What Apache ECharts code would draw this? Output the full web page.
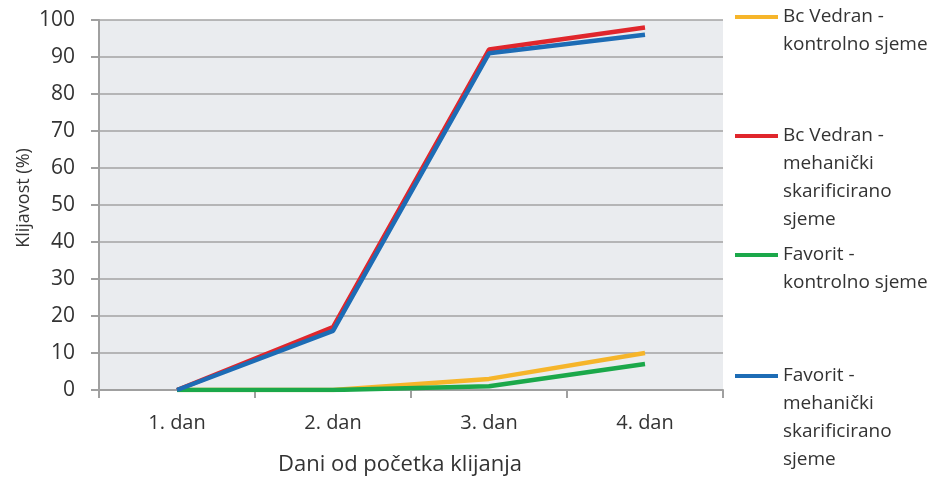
<!DOCTYPE html>
<html>
<head>
<meta charset="utf-8">
<script src="https://cdn.jsdelivr.net/npm/echarts@6/dist/echarts.min.js"></script>
<style>html,body{margin:0;padding:0;background:#fff}#c{width:930px;height:483px}</style>
</head>
<body>
<div id="c"></div>
<script>
const categories = ['1. dan', '2. dan', '3. dan', '4. dan'];
const seriesNames = [
  'Bc Vedran -\nkontrolno sjeme',
  'Bc Vedran -\nmehanički\nskarificirano\nsjeme',
  'Favorit -\nkontrolno sjeme',
  'Favorit -\nmehanički\nskarificirano\nsjeme'
];
const vedranKontrolno = [0, 0, 3, 10];
const vedranSkarificirano = [0, 17, 92, 98];
const favoritKontrolno = [0, 0, 1, 7];
const favoritSkarificirano = [0, 16, 91, 96];
const colors = ['#f6b52a', '#e0262c', '#1ba84a', '#1d6cb5'];
const yTicks = { min: 0, max: 100, interval: 10 };

const values = [vedranKontrolno, vedranSkarificirano, favoritKontrolno, favoritSkarificirano];
const LH = 28;
const legendTops = [-25, 38, 213, 278];
const font = "'Open Sans', sans-serif";

const chart = echarts.init(document.getElementById('c'));
chart.setOption({
  animation: false,
  color: colors,
  grid: { left: 99, right: 207, top: 20, bottom: 93, show: true, backgroundColor: '#eaecef', borderWidth: 0 },
  legend: seriesNames.map((n, i) => ({
    data: [n],
    orient: 'vertical',
    left: 735,
    top: legendTops[i],
    padding: 0,
    itemWidth: 43,
    itemHeight: 4,
    itemGap: 0,
    icon: 'rect',
    selectedMode: false,
    formatter: (name) => '\n'.repeat(name.split('\n').length - 1) + name,
    textStyle: { fontFamily: font, fontSize: 19, color: '#333', lineHeight: LH }
  })),
  xAxis: {
    type: 'category',
    data: categories,
    boundaryGap: true,
    name: 'Dani od početka klijanja',
    nameLocation: 'middle',
    nameGap: 64,
    nameMoveOverlap: false,
    nameTextStyle: { fontFamily: font, fontSize: 22, color: '#333', padding: [0, 22, 0, 0] },
    axisLine: { lineStyle: { color: '#a0a0a0', width: 2 } },
    axisTick: { show: true, alignWithLabel: false, length: 8, lineStyle: { color: '#a0a0a0', width: 2 } },
    axisLabel: { fontFamily: font, fontSize: 20, color: '#333', margin: 23 },
    splitLine: { show: false }
  },
  yAxis: {
    type: 'value',
    min: yTicks.min, max: yTicks.max, interval: yTicks.interval,
    name: 'Klijavost (%)',
    nameLocation: 'middle',
    nameGap: 66,
    nameMoveOverlap: false,
    nameRotate: 90,
    nameTextStyle: { fontFamily: font, fontSize: 18, color: '#333', padding: [0, 0, 0, 14] },
    axisLine: { show: true, lineStyle: { color: '#a0a0a0', width: 2 } },
    axisTick: { show: true, length: 8, lineStyle: { color: '#a0a0a0', width: 2 } },
    axisLabel: { fontFamily: font, fontSize: 21, color: '#333', margin: 24 },
    splitLine: { show: true, lineStyle: { color: '#a3a3a3', width: 1.5 } }
  },
  series: seriesNames.map((n, i) => ({
    name: n,
    type: 'line',
    data: values[i],
    symbol: 'none',
    lineStyle: { width: 4.5, color: colors[i] },
    itemStyle: { color: colors[i] }
  }))
});
</script>
</body>
</html>
